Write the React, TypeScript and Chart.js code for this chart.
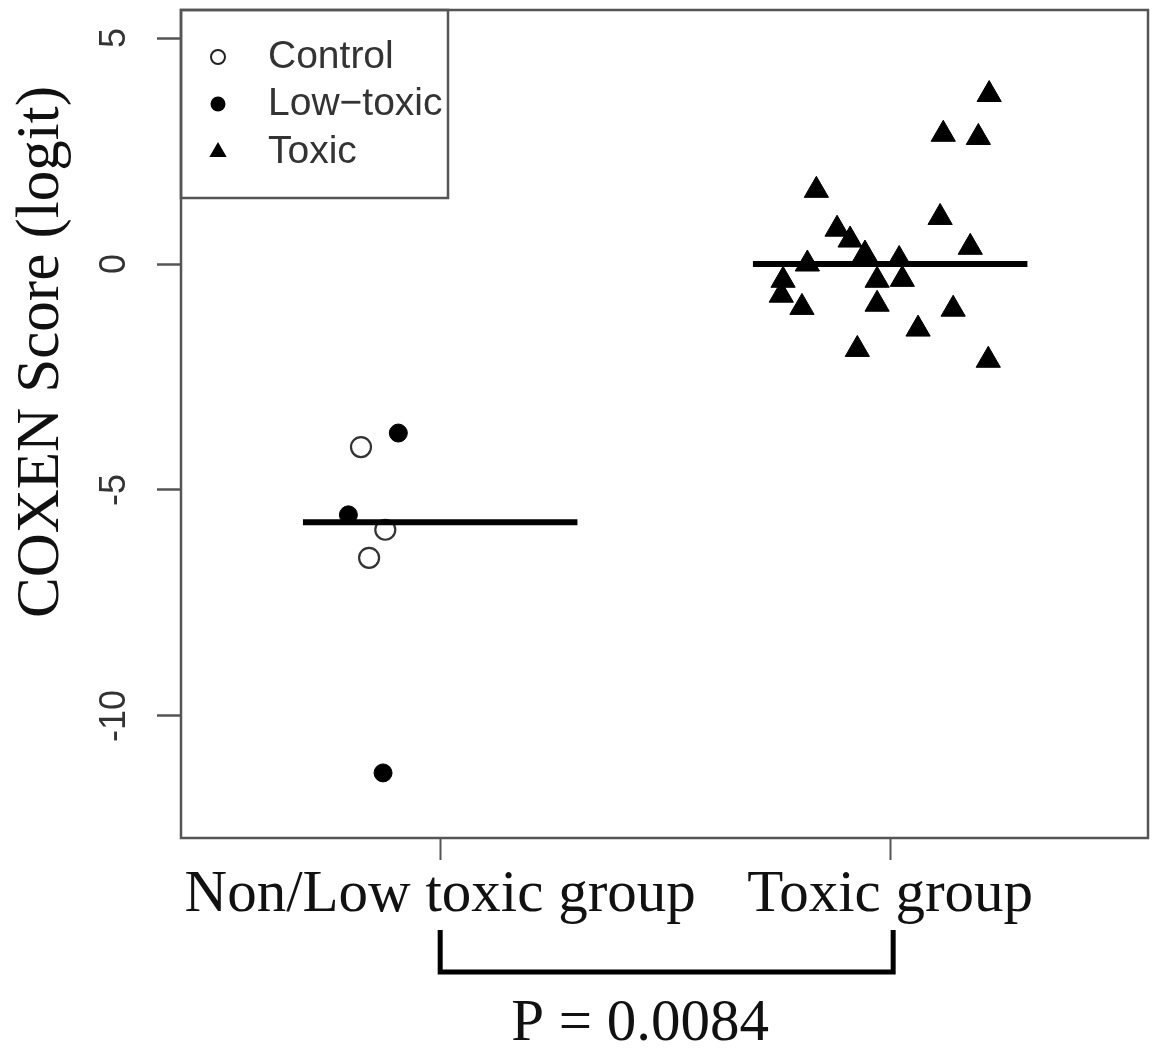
import React, { useEffect, useRef } from 'react';
import { Chart, registerables } from 'chart.js';

Chart.register(...registerables);

// ---- data ----
const groupLabels = ['Non/Low toxic group', 'Toxic group'];
const xTicks = [1, 2];
const yTicks = [5, 0, -5, -10];
const yMin = -12.7;
const yMax = 5.62;
const xMin = 0.424;
const xMax = 2.573;

const legendLabels = ['Control', 'Low\u2212toxic', 'Toxic'];
const yTitle = 'COXEN Score (logit)';
const pValueText = 'P = 0.0084';

const controlX = [0.824, 0.878, 0.842];
const controlY = [-4.05, -5.88, -6.5];
const lowToxicX = [0.907, 0.796, 0.873];
const lowToxicY = [-3.74, -5.55, -11.26];
const toxicX = [2.22, 2.118, 2.196, 1.836, 2.111, 2.178, 1.882, 1.911, 1.944, 1.816, 2.02, 1.762, 1.758, 1.804, 1.971, 2.027, 1.971, 2.14, 2.062, 1.927, 2.218];
const toxicY = [3.75, 2.87, 2.8, 1.63, 1.03, 0.37, 0.77, 0.53, 0.22, 0.0, 0.1, -0.36, -0.69, -0.96, -0.36, -0.34, -0.89, -1.0, -1.44, -1.89, -2.13];

const medianHalfWidth = 0.305;

function median(values: number[]): number {
  const s = [...values].sort((a, b) => a - b);
  const m = Math.floor(s.length / 2);
  return s.length % 2 ? s[m] : (s[m - 1] + s[m]) / 2;
}

const toPoints = (xs: number[], ys: number[]) => xs.map((x, i) => ({ x, y: ys[i] }));

const SERIF = '"Liberation Serif", "Times New Roman", serif';
const SANS = '"Liberation Sans", Arial, sans-serif';

const overlayPlugin = {
  id: 'overlay',
  afterDraw(chart: any) {
    const ctx = chart.ctx as CanvasRenderingContext2D;
    const area = chart.chartArea;
    const xs = chart.scales.x;
    ctx.save();

    // plot box
    ctx.strokeStyle = '#555';
    ctx.lineWidth = 2.5;
    ctx.strokeRect(area.left, area.top, area.right - area.left, area.bottom - area.top);

    // legend box
    const lx = area.left, ly = area.top, lw = 267, lh = 188;
    ctx.strokeRect(lx, ly, lw, lh);
    const rowY = [ly + 47, ly + 94, ly + 142];
    const mx = lx + 37;
    // control: open circle
    ctx.lineWidth = 2;
    ctx.strokeStyle = '#222';
    ctx.beginPath();
    ctx.arc(mx, rowY[0], 7, 0, Math.PI * 2);
    ctx.stroke();
    // low-toxic: filled circle
    ctx.fillStyle = '#000';
    ctx.beginPath();
    ctx.arc(mx, rowY[1], 7.5, 0, Math.PI * 2);
    ctx.fill();
    // toxic: triangle
    const r = 10;
    ctx.beginPath();
    ctx.moveTo(mx, rowY[2] - r);
    ctx.lineTo(mx + r * Math.sin((2 * Math.PI) / 3), rowY[2] + r / 2);
    ctx.lineTo(mx - r * Math.sin((2 * Math.PI) / 3), rowY[2] + r / 2);
    ctx.closePath();
    ctx.fill();
    ctx.font = `39px ${SANS}`;
    ctx.fillStyle = '#333';
    ctx.textAlign = 'left';
    ctx.textBaseline = 'middle';
    legendLabels.forEach((t, i) => ctx.fillText(t, lx + 87, rowY[i]));

    // y-axis title
    ctx.save();
    ctx.translate(58, 352);
    ctx.rotate(-Math.PI / 2);
    ctx.font = `61px ${SERIF}`;
    ctx.fillStyle = '#111';
    ctx.textAlign = 'center';
    ctx.textBaseline = 'alphabetic';
    ctx.fillText(yTitle, 0, 0);
    ctx.restore();

    // significance bracket
    const b1 = xs.getPixelForValue(xTicks[0]);
    const b2 = xs.getPixelForValue(xTicks[1]) + 3;
    ctx.strokeStyle = '#000';
    ctx.lineWidth = 5;
    ctx.lineCap = 'butt';
    ctx.lineJoin = 'miter';
    ctx.beginPath();
    ctx.moveTo(b1, 930);
    ctx.lineTo(b1, 972);
    ctx.lineTo(b2, 972);
    ctx.lineTo(b2, 930);
    ctx.stroke();

    ctx.font = `59px ${SERIF}`;
    ctx.fillStyle = '#111';
    ctx.textAlign = 'center';
    ctx.textBaseline = 'alphabetic';
    ctx.fillText(pValueText, b1 + 200, 1040);

    ctx.restore();
  },
};

export default function App() {
  const canvasRef = useRef<HTMLCanvasElement | null>(null);

  useEffect(() => {
    if (!canvasRef.current) return;
    const leftMed = median([...controlY, ...lowToxicY]);
    const rightMed = median(toxicY);

    const chart = new Chart(canvasRef.current, {
      type: 'scatter',
      data: {
        datasets: [
          {
            label: 'median left',
            type: 'line',
            data: [
              { x: xTicks[0] - medianHalfWidth, y: leftMed },
              { x: xTicks[0] + medianHalfWidth, y: leftMed },
            ],
            borderColor: '#000',
            borderWidth: 6,
            pointRadius: 0,
            order: 0,
          } as any,
          {
            label: 'median right',
            type: 'line',
            data: [
              { x: xTicks[1] - medianHalfWidth, y: rightMed },
              { x: xTicks[1] + medianHalfWidth, y: rightMed },
            ],
            borderColor: '#000',
            borderWidth: 6,
            pointRadius: 0,
            order: 0,
          } as any,
          {
            label: legendLabels[0],
            data: toPoints(controlX, controlY),
            pointStyle: 'circle',
            pointRadius: 10,
            borderWidth: 2.2,
            borderColor: '#333',
            backgroundColor: '#fff',
            order: 1,
          },
          {
            label: legendLabels[1],
            data: toPoints(lowToxicX, lowToxicY),
            pointStyle: 'circle',
            pointRadius: 9,
            borderWidth: 1,
            borderColor: '#000',
            backgroundColor: '#000',
            order: 1,
          },
          {
            label: legendLabels[2],
            data: toPoints(toxicX, toxicY),
            pointStyle: 'triangle',
            pointRadius: 14,
            borderWidth: 1,
            borderColor: '#000',
            backgroundColor: '#000',
            order: 1,
          },
        ],
      },
      options: {
        responsive: false,
        animation: false,
        devicePixelRatio: 1,
        layout: { padding: { left: 0, top: 10, right: 6, bottom: 0 }, autoPadding: false },
        plugins: { legend: { display: false }, tooltip: { enabled: false } },
        scales: {
          x: {
            type: 'linear',
            min: xMin,
            max: xMax,
            afterBuildTicks: (s: any) => {
              s.ticks = xTicks.map((v) => ({ value: v }));
            },
            afterFit: (s: any) => {
              s.height = 211;
              s.paddingLeft = 0;
              s.paddingRight = 0;
            },
            grid: { drawOnChartArea: false, tickLength: 22, tickColor: '#555', tickWidth: 2 },
            border: { display: false },
            ticks: {
              autoSkip: false,
              maxRotation: 0,
              minRotation: 0,
              padding: 0,
              color: '#111',
              font: { family: SERIF, size: 59 },
              callback: (v: any) => groupLabels[xTicks.indexOf(Number(v))] ?? '',
            },
          },
          y: {
            type: 'linear',
            min: yMin,
            max: yMax,
            afterBuildTicks: (s: any) => {
              s.ticks = yTicks.map((v) => ({ value: v }));
            },
            afterFit: (s: any) => {
              s.width = 181;
              s.paddingTop = 0;
              s.paddingBottom = 0;
            },
            grid: { drawOnChartArea: false, tickLength: 24, tickColor: '#555', tickWidth: 2.5 },
            border: { display: false },
            ticks: {
              minRotation: 90,
              maxRotation: 90,
              crossAlign: 'center',
              padding: 16,
              color: '#333',
              font: { family: SANS, size: 36 },
              callback: (v: any) => String(v),
            },
          },
        },
      },
      plugins: [overlayPlugin],
    });
    return () => chart.destroy();
  }, []);

  return (
    <div style={{ position: 'fixed', left: 0, top: 0, width: 1154, height: 1049, background: '#fff' }}>
      <canvas ref={canvasRef} width={1154} height={1049} />
    </div>
  );
}
